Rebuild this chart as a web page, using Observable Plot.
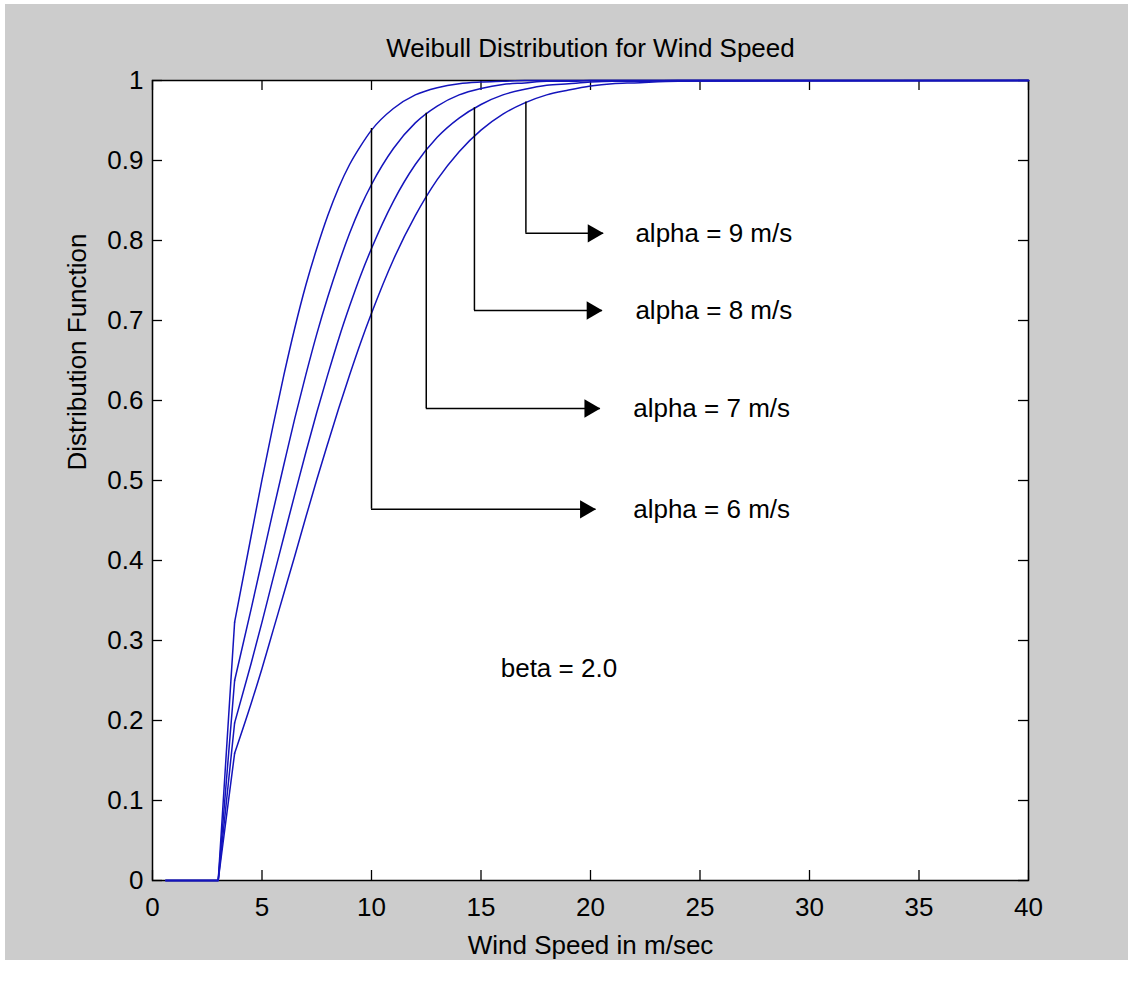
<!DOCTYPE html>
<html><head><meta charset="utf-8">
<script src="https://cdn.jsdelivr.net/npm/d3@7"></script>
<script src="https://cdn.jsdelivr.net/npm/@observablehq/plot@0.6"></script>
<style>
html,body{margin:0;padding:0;background:#fff;}
#bg{position:absolute;left:5px;top:4px;width:1123px;height:956px;background:#cccccc;}
#chart{position:absolute;left:0;top:0;}
</style></head><body><div id="bg"></div><div id="chart"></div>
<script>
// Wind speed grid (m/s) and distribution values
const windSpeed = [0.6, 3, 3.75, 4.5, 5, 5.5, 6, 6.5, 7, 7.5, 8, 8.5, 9, 9.5, 10, 11, 12, 13, 14, 15, 16, 17, 18, 19, 20, 21, 22, 24, 40];
const alpha6 = [0,0,0.323,0.430,0.501,0.568,0.632,0.691,0.744,0.790,0.831,0.866,0.895,0.918,0.938,0.965,0.982,0.991,0.996,0.998,0.999,1,1,1,1,1,1,1,1];
const alpha7 = [0,0,0.250,0.339,0.400,0.461,0.520,0.578,0.632,0.683,0.729,0.771,0.809,0.842,0.870,0.915,0.947,0.968,0.982,0.990,0.995,0.997,0.999,0.999,1,1,1,1,1];
const alpha8 = [0,0,0.197,0.271,0.323,0.377,0.430,0.483,0.535,0.585,0.632,0.677,0.718,0.756,0.790,0.849,0.895,0.929,0.953,0.970,0.982,0.989,0.994,0.996,0.998,0.999,0.999,1,1];
const alpha9 = [0,0,0.159,0.221,0.265,0.312,0.359,0.406,0.454,0.501,0.546,0.590,0.632,0.672,0.709,0.776,0.831,0.876,0.911,0.938,0.958,0.972,0.982,0.988,0.993,0.996,0.997,0.999,1];
const seriesNames = ["alpha = 6 m/s", "alpha = 7 m/s", "alpha = 8 m/s", "alpha = 9 m/s"];
const seriesValues = [alpha6, alpha7, alpha8, alpha9];

// annotation callouts
const annX = [10, 12.5, 14.7, 17.05];       // vertical leader x
const annTop = [0.940, 0.959, 0.966, 0.973]; // where leader meets curve
const annY = [0.464, 0.590, 0.7125, 0.809];  // horizontal leader level
const annTip = [20.25, 20.45, 20.55, 20.6];  // arrow tip x
const annTextX = [21.95, 21.95, 22.05, 22.05];
const betaText = "beta = 2.0";
const betaX = 15.9, betaY = 0.265;

const xTicks = [0, 5, 10, 15, 20, 25, 30, 35, 40];
const xTickLabels = ["0", "5", "10", "15", "20", "25", "30", "35", "40"];
const yTicks = [0, 0.1, 0.2, 0.3, 0.4, 0.5, 0.6, 0.7, 0.8, 0.9, 1];
const yTickLabels = ["0", "0.1", "0.2", "0.3", "0.4", "0.5", "0.6", "0.7", "0.8", "0.9", "1"];

const title = "Weibull Distribution for Wind Speed";
const xLabel = "Wind Speed in m/sec";
const yLabel = "Distribution Function";

// build tables
const startRows = [], curveRows = [];
seriesValues.forEach((vals, s) => {
  vals.forEach((v, i) => {
    const row = {x: windSpeed[i], y: v, s: seriesNames[s]};
    if (i <= 2) startRows.push(row);
    if (i >= 2) curveRows.push(row);
  });
});
const ann = annX.map((x, i) => ({x, top: annTop[i], y: annY[i], tip: annTip[i], tx: annTextX[i], label: seriesNames[i]}));

// prefer a narrow face (closer to the reference's tall, narrow glyphs) if it is installed
function hasFont(name) {
  const ctx = document.createElement("canvas").getContext("2d");
  const s = "abcdefghijklmnopqrstuvwxyz0123456789";
  ctx.font = "40px monospace"; const a = ctx.measureText(s).width;
  ctx.font = `40px '${name}', monospace`; const b = ctx.measureText(s).width;
  return Math.abs(a - b) > 0.5;
}
const narrow = hasFont("Liberation Sans Narrow");
const FONT = narrow ? "'Liberation Sans Narrow', 'Liberation Sans', sans-serif" : "'Liberation Sans', Arial, Helvetica, sans-serif";
const FS = narrow ? "31px" : "26px";
const lineColor = "#1414bc";

const chart = Plot.plot({
  width: 1128, height: 981,
  marginTop: 80, marginBottom: 101, marginLeft: 152, marginRight: 100,
  x: {domain: [0, 40], axis: null},
  y: {domain: [0, 1], axis: null},
  style: {fontFamily: FONT, fontSize: FS, background: "transparent", color: "black", overflow: "visible"},
  marks: [
    Plot.frame({fill: "white", stroke: "none"}),
    // inward ticks on all four sides
    Plot.ruleX(xTicks, {x: d => d, insetTop: 790, stroke: "black", strokeWidth: 1.3}),
    Plot.ruleX(xTicks, {x: d => d, insetBottom: 790, stroke: "black", strokeWidth: 1.3}),
    Plot.ruleY(yTicks, {y: d => d, insetRight: 866, stroke: "black", strokeWidth: 1.3}),
    Plot.ruleY(yTicks, {y: d => d, insetLeft: 866, stroke: "black", strokeWidth: 1.3}),
    Plot.frame({stroke: "black", strokeWidth: 1.5}),
    // tick labels
    Plot.text(xTicks, {x: d => d, frameAnchor: "bottom", dy: 35, lineAnchor: "bottom", text: (d, i) => xTickLabels[i]}),
    Plot.text(yTicks, {y: d => d, frameAnchor: "left", dx: -9, textAnchor: "end", lineAnchor: "middle", text: (d, i) => yTickLabels[i]}),
    // curves
    Plot.line(startRows, {x: "x", y: "y", z: "s", stroke: lineColor, strokeWidth: 1.5}),
    Plot.line(curveRows, {x: "x", y: "y", z: "s", stroke: lineColor, strokeWidth: 1.5, curve: "monotone-x"}),
    // callouts
    Plot.ruleX(ann, {x: "x", y1: "top", y2: "y", stroke: "black", strokeWidth: 1.5}),
    Plot.ruleY(ann, {y: "y", x1: "x", x2: "tip", stroke: "black", strokeWidth: 1.5}),
    Plot.dot(ann, {x: "tip", y: "y", dx: -10.6, symbol: "triangle", r: 6.8, rotate: 90, fill: "black", stroke: "none"}),
    Plot.text(ann, {x: "tx", y: "y", text: "label", textAnchor: "start", lineAnchor: "middle"}),
    Plot.text([betaText], {x: betaX, y: betaY, text: d => d, textAnchor: "start", lineAnchor: "middle"}),
    // titles
    Plot.text([title], {frameAnchor: "top", dy: -24, lineAnchor: "bottom", text: d => d}),
    Plot.text([xLabel], {frameAnchor: "bottom", dy: 73, lineAnchor: "bottom", text: d => d}),
    Plot.text([yLabel], {frameAnchor: "left", dx: -67, dy: -10, rotate: -90, lineAnchor: "bottom", text: d => d})
  ]
});
document.getElementById("chart").appendChild(chart);
</script></body></html>
